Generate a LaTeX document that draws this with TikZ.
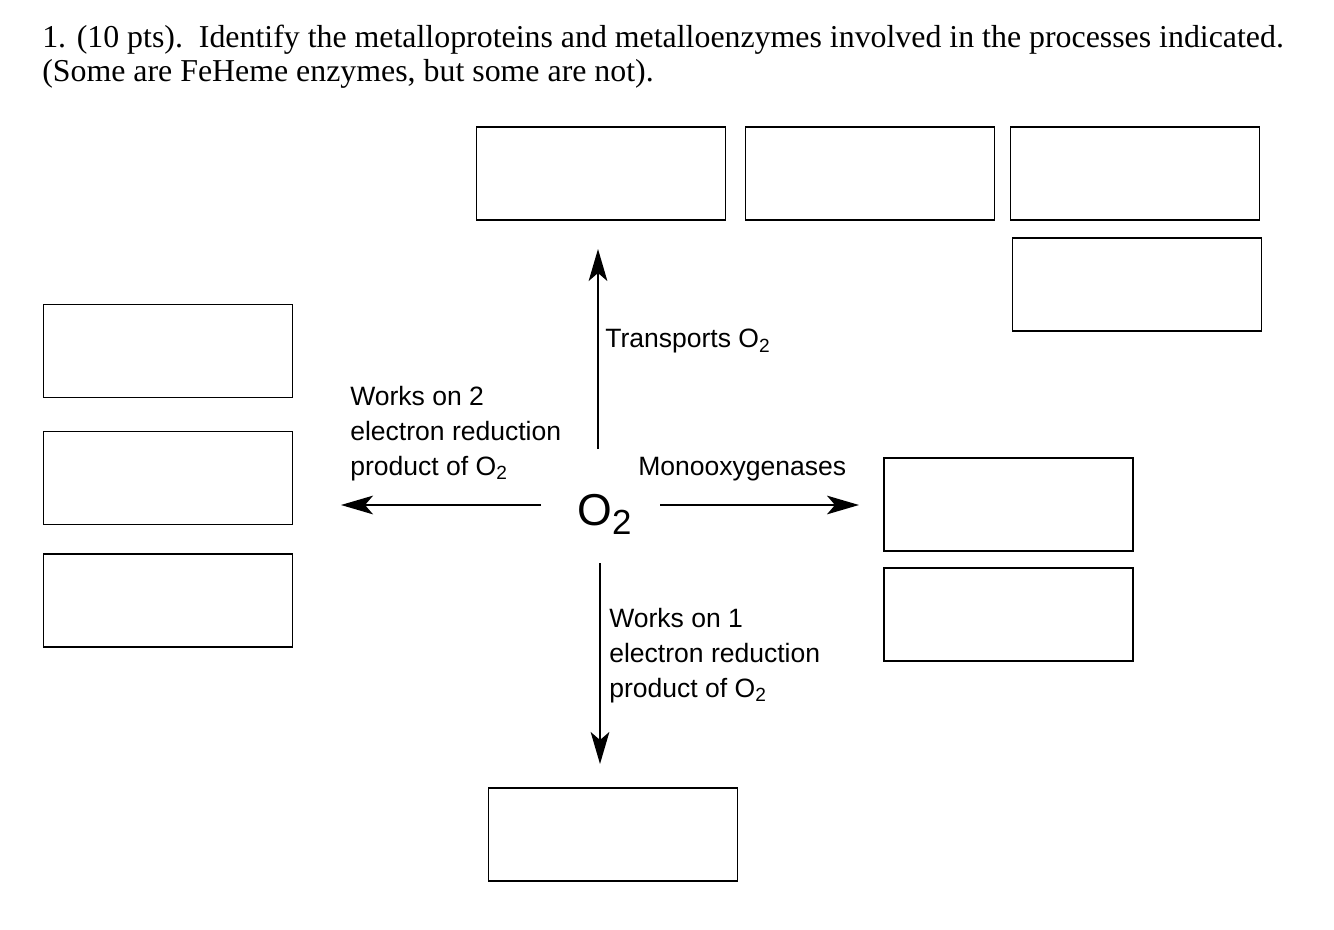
\documentclass[tikz,border=0pt]{standalone}
\usepackage{fontspec}
\setmainfont{Liberation Serif}
\newfontfamily\arialf{Liberation Sans}
\usetikzlibrary{arrows.meta}
\newcommand\lowsub[3]{\raisebox{-#2em}{\scalebox{#3}{#1}}}
\begin{document}
\begin{tikzpicture}[x=0.75pt,y=-0.75pt,
  ansbox/.style={draw=black, line width=1pt, minimum width=186.75pt, minimum height=69.75pt, inner sep=0pt},
  titletext/.style={anchor=base west, inner sep=0pt, font=\fontsize{23.9}{26.25}\selectfont},
  lbl/.style={anchor=base west, inner sep=0pt, align=left, font=\arialf\fontsize{19.9}{26.25}\selectfont},
  flow/.style={line width=1.5pt, -{Stealth[length=24pt, width=14pt, inset=6pt]}}]
\useasboundingbox (0,0) rectangle (1334,930);
% title
\node[titletext] (title1) at (42,48) {1. (10 pts).\ \ Identify the metalloproteins and metalloenzymes involved in the processes indicated.};
\node[titletext] (title2) at (42,82) {(Some are FeHeme enzymes, but some are not).};
% answer boxes
\node[ansbox] (t1) at (601,173.5) {};
\node[ansbox] (t2) at (870,173.5) {};
\node[ansbox] (t3) at (1135,173.5) {};
\node[ansbox] (t4) at (1137,284.5) {};
\node[ansbox] (l1) at (168,351) {};
\node[ansbox] (l2) at (168,478) {};
\node[ansbox] (l3) at (168,600.5) {};
\node[ansbox] (r1) at (1008.5,504.5) {};
\node[ansbox] (r2) at (1008.5,614.5) {};
\node[ansbox] (b1) at (613,834.5) {};
% center
\node[anchor=base west, inner sep=0pt, font=\arialf\fontsize{33.5}{40}\selectfont] (o2) at (577,525) {O\lowsub{2}{0.22}{0.78}};
% arrow ends
\coordinate (upS) at (598,449);
\coordinate (upE) at (598,249);
\coordinate (dnS) at (600,563);
\coordinate (dnE) at (600,764);
\coordinate (lfS) at (541,505);
\coordinate (lfE) at (341,505);
\coordinate (rtS) at (660,505);
\coordinate (rtE) at (859,505);
\draw[flow] (upS) -- (upE);
\draw[flow] (dnS) -- (dnE);
\draw[flow] (lfS) -- (lfE);
\draw[flow] (rtS) -- (rtE);
% labels
\node[lbl] (trans) at (605,348) {Transports O\lowsub{2}{0.16}{0.72}};
\node[lbl] (two) at (350,475) {Works on 2\\electron reduction\\product of O\lowsub{2}{0.16}{0.72}};
\node[lbl] (mono) at (638,475) {Monooxygenases};
\node[lbl] (one) at (609,697) {Works on 1\\electron reduction\\product of O\lowsub{2}{0.16}{0.72}};
\end{tikzpicture}
\end{document}
